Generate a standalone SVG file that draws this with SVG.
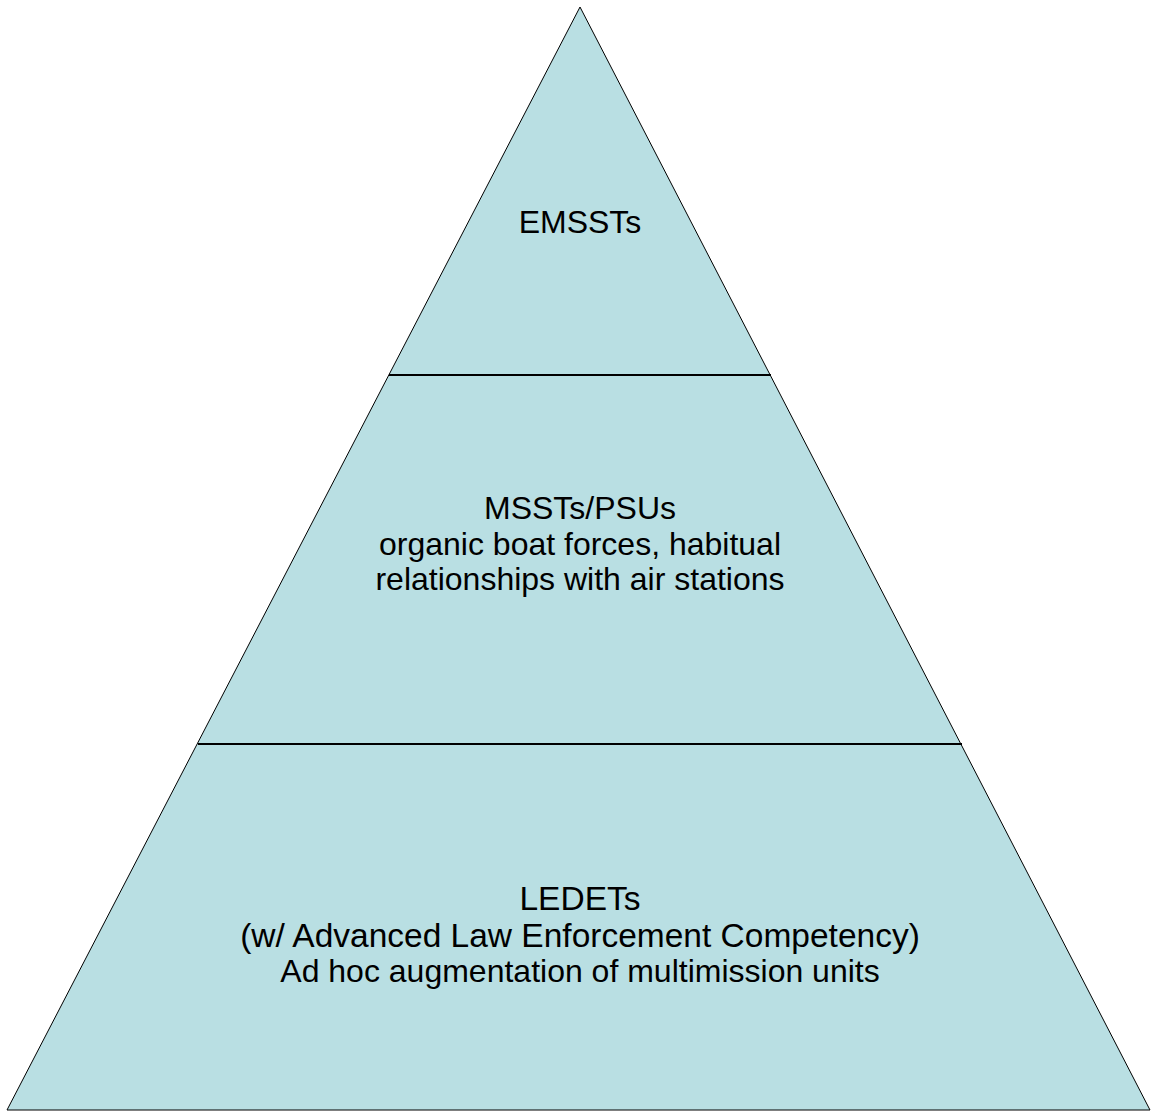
<svg xmlns="http://www.w3.org/2000/svg" width="1151" height="1112" viewBox="0 0 1151 1112">
<style>
.t{font-family:"Liberation Sans",Arial,sans-serif;font-size:32px;fill:#000;text-anchor:middle}
.b{font-size:33.5px}
.div{stroke:#000;stroke-width:2}
</style>
<rect width="1151" height="1112" fill="#fff"/>
<g id="pyramid">
<polygon points="580,7 7,1110 1150,1110" fill="#b9dfe3" stroke="#000" stroke-width="1"/>
</g>
<g id="connectors">
<line class="div" x1="389" y1="375" x2="771" y2="375"/>
<line class="div" x1="198" y1="744" x2="962" y2="744"/>
</g>
<g id="tier-top">
<text class="t" x="580" y="233">EMSSTs</text>
</g>
<g id="tier-middle">
<text class="t" x="580" y="519">MSSTs/PSUs</text>
<text class="t" x="580" y="555">organic boat forces, habitual</text>
<text class="t" x="580" y="590">relationships with air stations</text>
</g>
<g id="tier-bottom">
<text class="t b" x="580" y="910">LEDETs</text>
<text class="t b" x="580" y="947">(w/ Advanced Law Enforcement Competency)</text>
<text class="t" x="580" y="982">Ad hoc augmentation of multimission units</text>
</g>
</svg>
